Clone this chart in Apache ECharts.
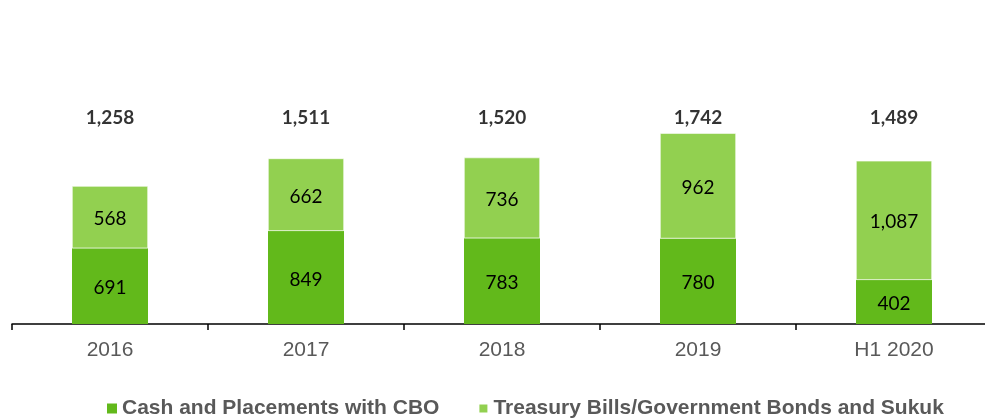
<!DOCTYPE html>
<html lang="en">
<head>
<meta charset="UTF-8" />
<script src="https://cdn.jsdelivr.net/npm/echarts@6/dist/echarts.min.js"></script>
<style>
html,body{margin:0;padding:0;background:#fff;}
#main{width:985px;height:418px;}
</style>
</head>
<body>
<div id="main"></div>
<script type="text/javascript">
// data
var categories = ['2016', '2017', '2018', '2019', 'H1 2020'];
var cashCBO = [691, 849, 783, 780, 402];
var treasury = [568, 662, 736, 962, 1087];
var totals = [1258, 1511, 1520, 1742, 1489];
var totalLabelLevel = 1880; // totals sit on one line above the bars

function fmt(v){
	return v.toString().replace(/\B(?=(\d{3})+(?!\d))/g, ',');
}

var myChart = echarts.init(document.getElementById('main'));
var option = {
	animation: false,
	grid: {left: 12, width: 980, top: 50, bottom: 94, containLabel: false, outerBoundsMode: 'none'},
	legend: {
		top: 393,
		left: 102,
		itemWidth: 10,
		itemHeight: 10,
		itemGap: 38,
		icon: 'rect',
		textStyle: {fontFamily: 'Liberation Sans', fontWeight: 'bold', fontSize: 21, color: '#595959'},
		data: ['Cash and Placements with CBO', 'Treasury Bills/Government Bonds and Sukuk']
	},
	xAxis: {
		type: 'category',
		data: categories,
		axisLine: {lineStyle: {color: '#000', width: 1.5}},
		axisTick: {show: true, length: 6, lineStyle: {color: '#000', width: 1.5}},
		axisLabel: {fontFamily: 'Liberation Sans', fontSize: 21, color: '#595959', margin: 16}
	},
	yAxis: {
		type: 'value',
		min: 0,
		max: 2500,
		show: false,
		splitLine: {show: false}
	},
	series: [
		{
			name: 'Cash and Placements with CBO',
			type: 'bar',
			stack: 'total',
			barWidth: 76,
			itemStyle: {color: '#62b91b'},
			label: {show: true, position: 'inside', offset: [0, 2], formatter: function(p){return fmt(p.value);}, fontFamily: 'Lato', fontSize: 19, color: '#000'},
			data: cashCBO
		},
		{
			name: 'Treasury Bills/Government Bonds and Sukuk',
			type: 'bar',
			stack: 'total',
			barWidth: 76,
			itemStyle: {color: '#92d050', borderColor: '#fff', borderWidth: 0.6},
			label: {show: true, position: 'inside', offset: [0, 2], formatter: function(p){return fmt(p.value);}, fontFamily: 'Lato', fontSize: 19, color: '#000'},
			data: treasury
		},
		{
			name: 'totals',
			type: 'scatter',
			symbolSize: 0,
			silent: true,
			label: {
				show: true,
				position: 'inside',
				formatter: function(p){return fmt(totals[p.dataIndex]);},
				fontFamily: 'Lato',
				fontWeight: 'bold',
				fontSize: 19,
				color: '#000'
			},
			data: totals.map(function(t, i){return [i, totalLabelLevel];})
		}
	]
};
myChart.setOption(option);
</script>
</body>
</html>
